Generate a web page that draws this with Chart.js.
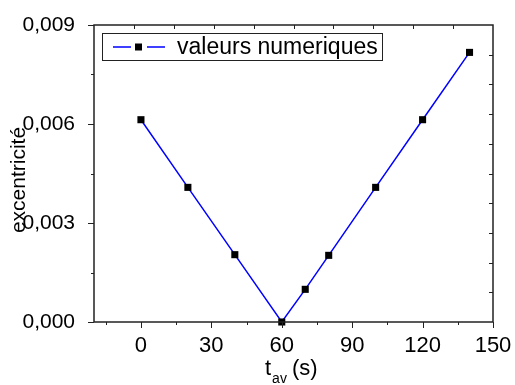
<!DOCTYPE html>
<html>
<head>
<meta charset="utf-8">
<script src="https://cdn.jsdelivr.net/npm/chart.js@4"></script>
<style>
  html, body { margin: 0; padding: 0; background: #fff; }
  #wrap { width: 515px; height: 385px; }
</style>
</head>
<body>
<div id="wrap"><canvas id="canvas" width="515" height="385"></canvas></div>
<script>
// data
var tav = [0, 20, 40, 60, 70, 80, 100, 120, 140];
var excentricite = [0.00613, 0.00408, 0.00204, 0, 0.00099, 0.00202, 0.00408, 0.00613, 0.00817];
var xTicks = [0, 30, 60, 90, 120, 150];
var xMinor = [-15, 15, 45, 75, 105, 135];
var yTicks = [0, 0.003, 0.006, 0.009];
var yMinor = [0.0015, 0.0045, 0.0075];
var seriesLabel = 'valeurs numeriques';

var FONT = '"Liberation Sans", Arial, sans-serif';

// frame, ticks, legend and axis titles drawn on top of the chart
var framePlugin = {
  id: 'frame',
  afterDraw: function (chart) {
    var ctx = chart.ctx, a = chart.chartArea;
    var sx = chart.scales.x, sy = chart.scales.y;
    ctx.save();
    ctx.strokeStyle = '#222';
    ctx.lineWidth = 1.5;
    ctx.strokeRect(a.left, a.top, a.right - a.left, a.bottom - a.top);

    ctx.lineWidth = 1;
    ctx.beginPath();
    // bottom / left, outward
    xTicks.forEach(function (v) { var x = Math.round(sx.getPixelForValue(v)) + 0.5; ctx.moveTo(x, a.bottom); ctx.lineTo(x, a.bottom + 6); });
    xMinor.forEach(function (v) { var x = Math.round(sx.getPixelForValue(v)) + 0.5; ctx.moveTo(x, a.bottom); ctx.lineTo(x, a.bottom + 3); });
    yTicks.forEach(function (v) { var y = Math.round(sy.getPixelForValue(v)) + 0.5; ctx.moveTo(a.left, y); ctx.lineTo(a.left - 6, y); });
    yMinor.forEach(function (v) { var y = Math.round(sy.getPixelForValue(v)) + 0.5; ctx.moveTo(a.left, y); ctx.lineTo(a.left - 3, y); });
    // top / right, inward, ten divisions
    for (var k = 1; k < 10; k++) {
      var x = Math.round(sx.getPixelForValue(sx.min + (sx.max - sx.min) * k / 10)) + 0.5;
      ctx.moveTo(x, a.top); ctx.lineTo(x, a.top + 4);
      var y = Math.round(sy.getPixelForValue(sy.min + (sy.max - sy.min) * k / 10)) + 0.5;
      ctx.moveTo(a.right, y); ctx.lineTo(a.right - 4, y);
    }
    ctx.stroke();

    // legend box
    var lx = a.left + 8, ly = a.top + 8, lw = 280, lh = 27;
    ctx.fillStyle = '#fff';
    ctx.fillRect(lx, ly, lw, lh);
    ctx.strokeStyle = '#222';
    ctx.lineWidth = 1;
    ctx.strokeRect(lx + 0.5, ly + 0.5, lw, lh);
    var cy = ly + lh / 2 + 0.5;
    ctx.strokeStyle = '#0000ff';
    ctx.lineWidth = 1.5;
    ctx.beginPath();
    ctx.moveTo(lx + 11, cy); ctx.lineTo(lx + 29, cy);
    ctx.moveTo(lx + 45, cy); ctx.lineTo(lx + 63, cy);
    ctx.stroke();
    ctx.fillStyle = '#000';
    ctx.fillRect(lx + 33, cy - 3.5, 7, 7);
    ctx.font = '23px ' + FONT;
    ctx.textBaseline = 'middle';
    ctx.textAlign = 'left';
    ctx.fillText(seriesLabel, lx + 75, cy + 1);

    // y title
    ctx.save();
    ctx.font = '21px ' + FONT;
    ctx.translate(25, 180);
    ctx.rotate(-Math.PI / 2);
    ctx.textAlign = 'center';
    ctx.textBaseline = 'alphabetic';
    ctx.fillText('excentricité', 0, 0);
    ctx.restore();

    // x title with subscript
    var tx = 265, ty = 375;
    ctx.textBaseline = 'alphabetic';
    ctx.font = '22px ' + FONT;
    ctx.fillText('t', tx, ty);
    var w = ctx.measureText('t').width;
    ctx.font = '14px ' + FONT;
    ctx.fillText('av', tx + w + 1, ty + 8);
    var w2 = ctx.measureText('av').width;
    ctx.font = '22px ' + FONT;
    ctx.fillText(' (s)', tx + w + w2, ty);
    ctx.restore();
  }
};

var ctx = document.getElementById('canvas').getContext('2d');
var chart = new Chart(ctx, {
  type: 'line',
  data: {
    datasets: [{
      label: seriesLabel,
      data: tav.map(function (t, i) { return { x: t, y: excentricite[i] }; }),
      borderColor: '#0000ff',
      borderWidth: 1.5,
      backgroundColor: '#000',
      pointStyle: 'rect',
      pointRadius: 5,
      pointBorderWidth: 0,
      pointBackgroundColor: '#000',
      clip: false,
      tension: 0
    }]
  },
  options: {
    responsive: false,
    animation: false,
    layout: { padding: { left: 0, top: 25, right: 22, bottom: 0 } },
    plugins: { legend: { display: false }, tooltip: { enabled: false } },
    scales: {
      x: {
        type: 'linear',
        min: -20, max: 150,
        grid: { display: false },
        border: { display: false },
        afterBuildTicks: function (s) { s.ticks = xTicks.map(function (v) { return { value: v }; }); },
        afterFit: function (s) { s.height = 63; },
        ticks: { color: '#000', font: { family: FONT, size: 22 }, padding: 3, maxRotation: 0, autoSkip: false }
      },
      y: {
        min: 0, max: 0.009,
        grid: { display: false },
        border: { display: false },
        afterBuildTicks: function (s) { s.ticks = yTicks.map(function (v) { return { value: v }; }); },
        afterFit: function (s) { s.width = 94; },
        ticks: {
          color: '#000', font: { family: FONT, size: 21 }, padding: 11,
          callback: function (v) { return v.toFixed(3).replace('.', ','); }
        }
      }
    }
  },
  plugins: [framePlugin]
});
</script>
</body>
</html>
